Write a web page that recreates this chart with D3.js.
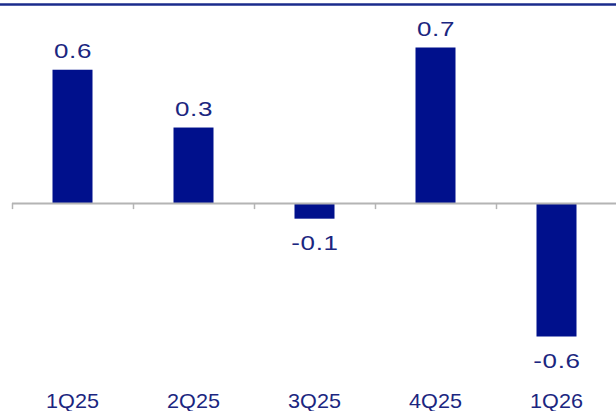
<!DOCTYPE html>
<html>
<head>
<meta charset="utf-8">
<script src="https://cdn.jsdelivr.net/npm/d3@7"></script>
<style>
    body { margin: 0; background: #fff; }
    svg { display: block; }
</style>
</head>
<body>
<svg id="chart" width="616" height="411"></svg>
<script>
// Quarterly values
var quarters = ["1Q25", "2Q25", "3Q25", "4Q25", "1Q26"];
var values = [0.6, 0.34, -0.07, 0.7, -0.6];

var svg = d3.select("#chart");
var width = 616;
var height = 411;

var textColor = "#1b2680";
var barColor = "#00108c";
var fontSize = 20;
var fontFamily = "Liberation Sans, Arial, sans-serif";

// Scales
var x = d3.scaleBand()
    .domain(quarters)
    .range([12, 617])
    .paddingInner(0)
    .paddingOuter(0);

var y = d3.scaleLinear()
    .domain([-0.6, 0.7])
    .range([336.5, 47.5]);

var barWidth = 40;
// plain hyphen for negatives, like the original
var fmt = d3.formatLocale({ decimal: ".", thousands: ",", grouping: [3], currency: ["", ""], minus: "-" })
    .format(".1f");

var cx = (d, i) => x(quarters[i]) + x.bandwidth() / 2;

// Top border
svg.append("line")
    .attr("x1", 0)
    .attr("x2", width)
    .attr("y1", 4.5)
    .attr("y2", 4.5)
    .style("stroke", "#1a2b8c")
    .style("stroke-width", 2.5);

// Bars
svg.append("g")
    .selectAll("rect")
    .data(values)
    .enter().append("rect")
    .attr("x", (d, i) => cx(d, i) - barWidth / 2)
    .attr("y", d => y(Math.max(0, d)))
    .attr("width", barWidth)
    .attr("height", d => Math.abs(y(d) - y(0)))
    .style("fill", barColor);

// Zero axis
var axis = d3.axisBottom(x)
    .tickSizeInner(0)
    .tickSizeOuter(0)
    .tickFormat("");
var axisG = svg.append("g")
    .attr("transform", `translate(0, ${y(0)})`)
    .call(axis);
axisG.select(".domain")
    .attr("d", `M12,0.5H${width}`)
    .style("stroke", "#b4b4b4")
    .style("stroke-width", 2);
axisG.selectAll(".tick").remove();

// Ticks between categories
axisG.selectAll(".sep")
    .data(quarters.map(q => x(q)))
    .enter().append("line")
    .attr("class", "sep")
    .attr("x1", d => d + 0.5)
    .attr("x2", d => d + 0.5)
    .attr("y1", 0)
    .attr("y2", 6)
    .style("stroke", "#b4b4b4")
    .style("stroke-width", 1.5);

// Value labels (original text is drawn wide)
svg.append("g")
    .selectAll("text")
    .data(values)
    .enter().append("text")
    .text(d => fmt(d))
    .attr("transform", (d, i) => `translate(${cx(d, i) + 0.5}, ${d >= 0 ? y(d) - 12 : y(d) + 31}) scale(1.3, 1)`)
    .attr("text-anchor", "middle")
    .attr("font-family", fontFamily)
    .attr("font-size", fontSize)
    .attr("letter-spacing", 0.5)
    .style("fill", textColor);

// Category labels
svg.append("g")
    .selectAll("text")
    .data(quarters)
    .enter().append("text")
    .text(d => d)
    .attr("transform", (d, i) => `translate(${cx(d, i)}, 407.5) scale(1.08, 1)`)
    .attr("text-anchor", "middle")
    .attr("font-family", fontFamily)
    .attr("font-size", fontSize)
    .style("fill", textColor);
</script>
</body>
</html>
